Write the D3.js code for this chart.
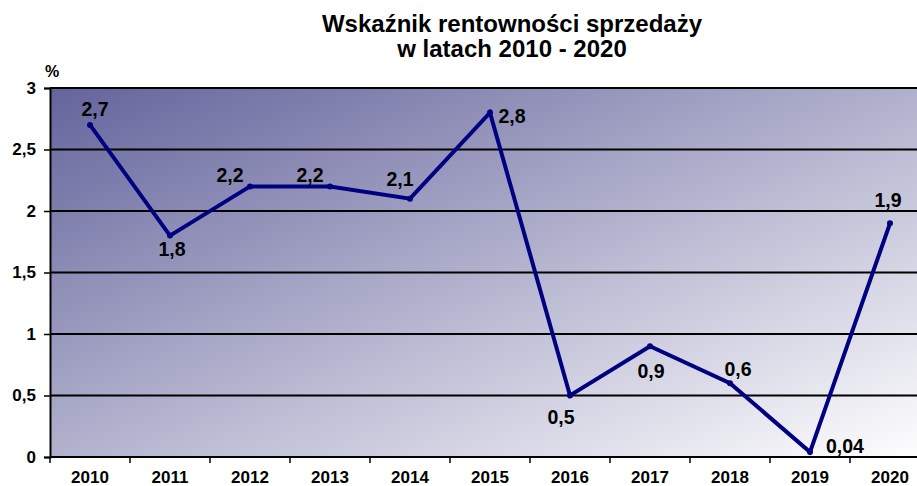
<!DOCTYPE html>
<html>
<head>
<meta charset="utf-8">
<script src="https://cdn.jsdelivr.net/npm/d3@7"></script>
<style>
  body { margin: 0; background: #fff; }
  svg text { font-family: Arial, "Liberation Sans", sans-serif; font-weight: bold; fill: #000; }
</style>
</head>
<body>
<div id="chart"></div>
<script>
// chart data
const years = ["2010", "2011", "2012", "2013", "2014", "2015", "2016", "2017", "2018", "2019", "2020"];
const values = [2.7, 1.8, 2.2, 2.2, 2.1, 2.8, 0.5, 0.9, 0.6, 0.04, 1.9];
const valueLabels = ["2,7", "1,8", "2,2", "2,2", "2,1", "2,8", "0,5", "0,9", "0,6", "0,04", "1,9"];
const yTicks = [0, 0.5, 1, 1.5, 2, 2.5, 3];
const yTickLabels = ["0", "0,5", "1", "1,5", "2", "2,5", "3"];
const titleLines = ["Wskaźnik rentowności sprzedaży", "w latach 2010 - 2020"];

// where each value label sits relative to its point
const labelOffsets = [
    [5, -9], [2, 20], [-20, -4], [-20, -4], [-10, -13], [22, 10],
    [-9, 28], [1, 32], [8, -7], [35, 1], [-2, -16]
];

const width = 917, height = 486;
const margin = {top: 88, left: 50, bottom: 29};

const svg = d3.select("#chart").append("svg")
    .attr("width", width)
    .attr("height", height);

const x = d3.scaleBand()
    .domain(years)
    .range([margin.left, margin.left + 80 * years.length])
    .padding(0);

const y = d3.scaleLinear()
    .domain([0, 3])
    .range([height - margin.bottom, margin.top]);

// background gradient
let defs = svg.append("defs");
let grad = defs.append("linearGradient")
    .attr("id", "bg")
    .attr("x1", 0).attr("y1", 0)
    .attr("x2", 1).attr("y2", 1);
grad.append("stop").attr("offset", "0%").attr("stop-color", "#64649c");
grad.append("stop").attr("offset", "100%").attr("stop-color", "#ffffff");

svg.append("rect")
    .attr("x", x.range()[0])
    .attr("y", y(3))
    .attr("width", x.range()[1] - x.range()[0])
    .attr("height", y(0) - y(3))
    .attr("fill", "url(#bg)");

// gridlines
svg.append("g").selectAll("line")
    .data(yTicks.filter(d => d > 0))
    .enter().append("line")
    .attr("x1", x.range()[0])
    .attr("x2", x.range()[1])
    .attr("y1", d => y(d))
    .attr("y2", d => y(d))
    .attr("stroke", "#000")
    .attr("stroke-width", 2);

// y axis
let yAxis = svg.append("g")
    .attr("transform", `translate(${margin.left},0)`)
    .call(d3.axisLeft(y).tickValues(yTicks)
        .tickFormat((d, i) => yTickLabels[i])
        .tickSize(6).tickPadding(8));
yAxis.select(".domain").attr("stroke", "#000").attr("stroke-width", 2);
yAxis.selectAll(".tick line").attr("stroke-width", 1.5);
yAxis.selectAll("text").style("font-size", "17px")
    .style("font-family", "Arial, 'Liberation Sans', sans-serif").style("font-weight", "bold");

// x axis, ticks sit on the category boundaries
let xAxis = svg.append("g")
    .attr("transform", `translate(0,${y(0)})`);
xAxis.append("line")
    .attr("x1", x.range()[0]).attr("x2", x.range()[1])
    .attr("stroke", "#000").attr("stroke-width", 2);
xAxis.selectAll(".sep")
    .data(years)
    .enter().append("line")
    .attr("class", "sep")
    .attr("x1", d => x(d)).attr("x2", d => x(d))
    .attr("y1", 0).attr("y2", 6)
    .attr("stroke", "#000").attr("stroke-width", 1.5);
xAxis.selectAll("text")
    .data(years)
    .enter().append("text")
    .attr("x", d => x(d) + x.bandwidth() / 2)
    .attr("y", 26)
    .attr("text-anchor", "middle")
    .style("font-size", "17px")
    .text(d => d);

// line
let line = d3.line()
    .x((d, i) => x(years[i]) + x.bandwidth() / 2)
    .y(d => y(d));

svg.append("path")
    .datum(values)
    .attr("d", line)
    .attr("fill", "none")
    .attr("stroke", "#000080")
    .attr("stroke-width", 4)
    .attr("stroke-linejoin", "miter");

svg.append("g").selectAll("circle")
    .data(values)
    .enter().append("circle")
    .attr("cx", (d, i) => x(years[i]) + x.bandwidth() / 2)
    .attr("cy", d => y(d))
    .attr("r", 3)
    .attr("fill", "#000080");

// value labels
svg.append("g").selectAll("text")
    .data(values)
    .enter().append("text")
    .attr("x", (d, i) => x(years[i]) + x.bandwidth() / 2 + labelOffsets[i][0])
    .attr("y", (d, i) => y(d) + labelOffsets[i][1])
    .attr("text-anchor", "middle")
    .style("font-size", "19.5px")
    .text((d, i) => valueLabels[i]);

// unit
svg.append("text")
    .attr("x", 52)
    .attr("y", 77)
    .attr("text-anchor", "middle")
    .style("font-size", "16px")
    .text("%");

// title
svg.append("g").selectAll("text")
    .data(titleLines)
    .enter().append("text")
    .attr("x", 512)
    .attr("y", (d, i) => 32 + i * 25)
    .attr("text-anchor", "middle")
    .style("font-size", "24px")
    .text(d => d);
</script>
</body>
</html>
